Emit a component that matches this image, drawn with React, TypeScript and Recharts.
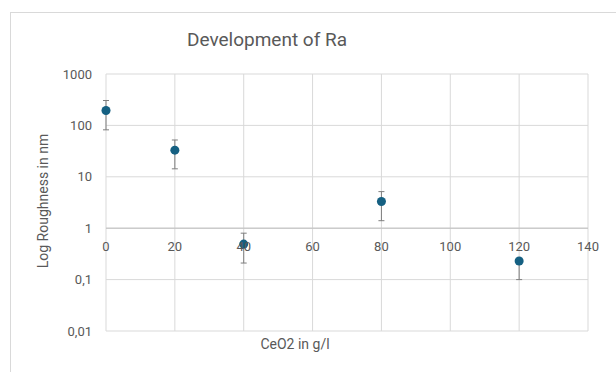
import {
  CartesianGrid,
  ErrorBar,
  ReferenceDot,
  ReferenceLine,
  Scatter,
  ScatterChart,
  XAxis,
  YAxis,
} from "recharts";

// CeO2-Konzentration (g/l) und gemessene Rauheit Ra (nm)
const ceo2 = [0, 20, 40, 80, 120];
const ra = [195, 33, 0.49, 3.3, 0.23];
// Fehlerbalken: [nach unten, nach oben]
const errDown = [113, 18.7, 0.28, 1.9, 0.13];
const errUp = [110, 19, 0.31, 1.85, 0];

const xTicks = [0, 20, 40, 60, 80, 100, 120, 140];
const yTicks = [0.01, 0.1, 1, 10, 100, 1000];

const data = ceo2.map((x, i) => ({ x, y: ra[i], err: [errDown[i], errUp[i]] }));

const TEXT = "#595959";
const GRID = "#d9d9d9";
const FONT = "Roboto, Arial, sans-serif";

const fmt = (v: number) => String(v).replace(".", ",");

export default function App() {
  return (
    <div style={{ position: "absolute", left: 0, top: 0, width: 616, height: 372, background: "#fff", fontFamily: FONT }}>
      <div
        style={{
          position: "absolute",
          left: 10,
          top: 12,
          width: 606,
          height: 360,
          borderLeft: `1px solid ${GRID}`,
          borderTop: `1px solid ${GRID}`,
          boxSizing: "border-box",
        }}
      />
      <div style={{ position: "absolute", left: 0, top: 28, width: 534, textAlign: "center", fontSize: 19, color: TEXT }}>
        Development of Ra
      </div>
      <div style={{ position: "absolute", left: 195, top: 336, width: 200, textAlign: "center", fontSize: 14, color: TEXT }}>
        CeO2 in g/l
      </div>
      <div
        style={{
          position: "absolute",
          left: 43 - 100,
          top: 201 - 10,
          width: 200,
          height: 20,
          lineHeight: "20px",
          textAlign: "center",
          fontSize: 14,
          color: TEXT,
          transform: "rotate(-90deg)",
        }}
      >
        Log Roughness in nm
      </div>
      <div style={{ position: "absolute", left: 0, top: 0 }}>
        <ScatterChart width={616} height={372} margin={{ top: 74, right: 28, bottom: 41, left: 0 }}>
          <CartesianGrid stroke={GRID} />
          <XAxis type="number" dataKey="x" domain={[0, 140]} ticks={xTicks} hide />
          <YAxis
            type="number"
            dataKey="y"
            scale="log"
            domain={[0.01, 1000]}
            ticks={yTicks}
            allowDataOverflow
            width={106}
            axisLine={false}
            tickLine={false}
            tickMargin={8}
            tick={{ fill: TEXT, fontSize: 13 }}
            tickFormatter={fmt}
          />
          <ReferenceLine y={1} stroke="#bfbfbf" />
          {xTicks.map((t) => (
            <ReferenceDot
              key={t}
              x={t}
              y={1}
              r={0}
              stroke="none"
              label={{ value: fmt(t), position: "bottom", offset: 14, fill: TEXT, fontSize: 13 }}
            />
          ))}
          <Scatter data={data} fill="#156082" isAnimationActive={false}>
            <ErrorBar dataKey="err" direction="y" width={3} stroke="#7f7f7f" strokeWidth={1} />
          </Scatter>
        </ScatterChart>
      </div>
    </div>
  );
}
